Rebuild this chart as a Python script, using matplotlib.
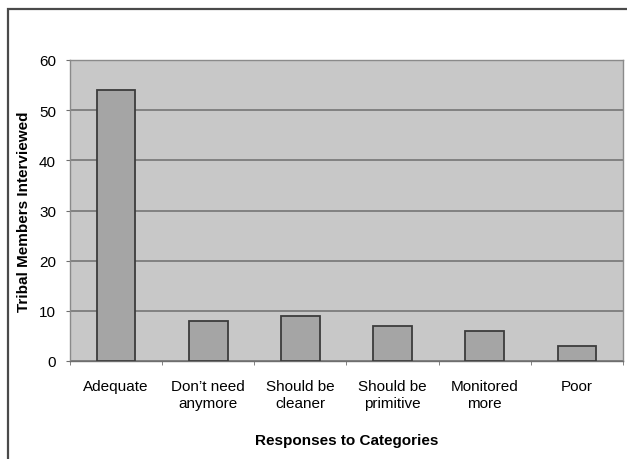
import matplotlib
matplotlib.use("Agg")
import matplotlib.pyplot as plt
from matplotlib.patches import Rectangle
import numpy as np

categories = ["Adequate", "Don\u2019t need\nanymore", "Should be\ncleaner",
              "Should be\nprimitive", "Monitored\nmore", "Poor"]
counts = [54, 8, 9, 7, 6, 3]
y_ticks = [0, 10, 20, 30, 40, 50, 60]

plt.rcParams['font.family'] = ['Liberation Sans', 'DejaVu Sans']

fig = plt.figure(figsize=(6.27, 4.6), dpi=100)
W, H = 627, 460

# outer frame around the whole chart
fig.patches.append(Rectangle((8 / W, -0.05), 1.2, (460 - 10) / H + 0.05,
                             transform=fig.transFigure, fill=False,
                             edgecolor="#4a4a4a", linewidth=1.6))

ax = fig.add_axes([70 / W, 1 - 362 / H, (623 - 70) / W, (362 - 61) / H])
ax.set_facecolor("#c8c8c8")

x = np.arange(len(categories))
ax.bar(x, counts, width=0.42, color="#a5a5a5", edgecolor="#3c3c3c",
       linewidth=1.3, zorder=3)

ax.set_xlim(-0.5, len(categories) - 0.5)
ax.set_ylim(0, 60)
ax.set_yticks(y_ticks)
ax.set_yticklabels([str(v) for v in y_ticks], fontsize=11)
ax.yaxis.grid(True, color="#6e6e6e", linewidth=1.1, zorder=1)
ax.set_axisbelow(True)

ax.set_xticks(x)
ax.set_xticklabels(categories, fontsize=11, linespacing=1.3)
ax.set_xticks(np.arange(len(categories) + 1) - 0.5, minor=True)
ax.tick_params(axis="x", which="major", length=0, pad=13)
ax.tick_params(axis="x", which="minor", length=3, color="#6e6e6e", direction="out")
ax.tick_params(axis="y", length=3, color="#6e6e6e", pad=7, direction="out")

for side in ["left", "right", "top", "bottom"]:
    ax.spines[side].set_color("#8a8a8a")
    ax.spines[side].set_linewidth(1.0)
ax.spines["bottom"].set_color("#6e6e6e")

ax.set_ylabel("Tribal Members Interviewed", fontsize=11, fontweight="bold",
              labelpad=6)
ax.set_xlabel("Responses to Categories", fontsize=11, fontweight="bold",
              labelpad=16)

fig.savefig("out.png", dpi=100)
